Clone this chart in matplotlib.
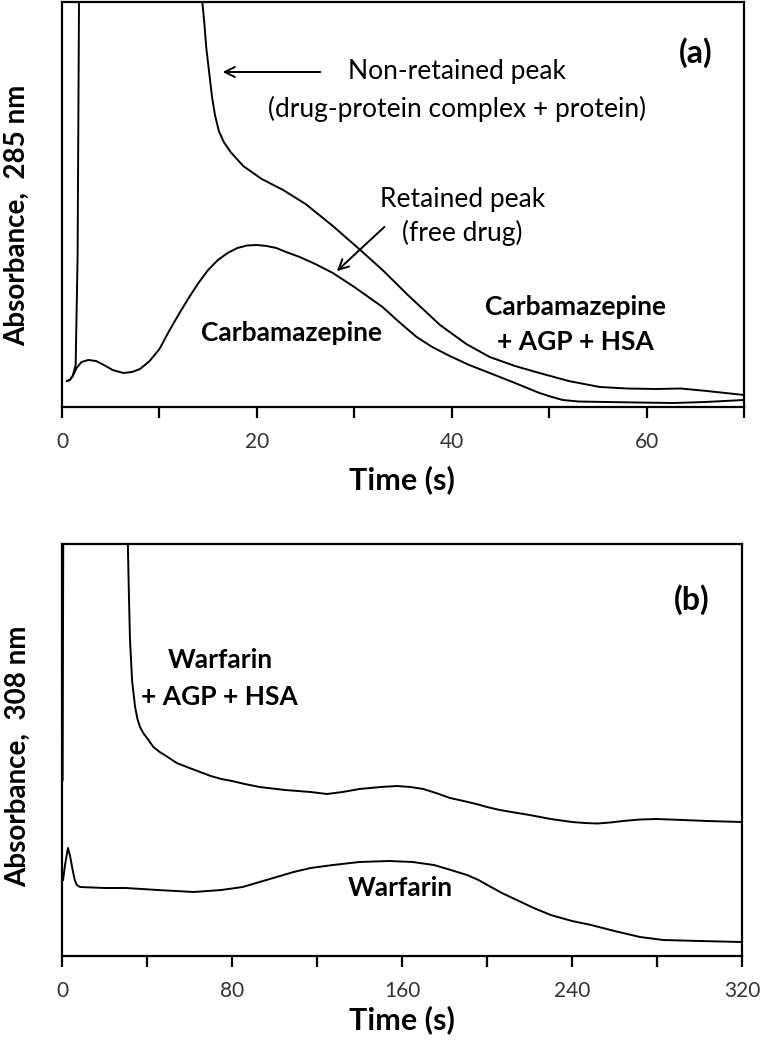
import numpy as np
import matplotlib.pyplot as plt

plt.rcParams['font.family'] = ['Lato', 'DejaVu Sans']

# panel (a): carbamazepine, 285 nm (absorbance in arbitrary units)
t_cbz = [0.5, 0.8, 1.1, 1.5, 2.0, 2.7, 3.5, 4.3, 5.2, 6.3, 7.2, 8.0, 9.0, 10.0, 11.0,
         12.0, 13.0, 14.0, 15.0, 16.0, 17.0, 18.0, 19.0, 20.0, 21.0, 22.0, 23.0, 24.4,
         26.0, 27.8, 30.0, 32.9, 34.6, 36.4, 38.0, 39.8, 41.8, 43.9, 46.5, 49.0, 50.3,
         51.4, 53.0, 55.9, 59.0, 62.7, 66.0, 70.0]
a_cbz = [26, 27, 31, 39, 45, 47, 46, 42, 37, 34, 35, 38, 46, 58, 76,
         93, 109, 124, 137, 147, 154, 159, 161.5, 162, 161, 159, 155, 150,
         143, 134, 120, 100, 85, 70, 60, 51, 42, 34, 24, 14, 10,
         7, 5.5, 5, 4.5, 4, 5, 7]

t_cbz_prot = [0.5, 0.8, 1.1, 1.4, 1.6, 1.8, 13.8, 14.4, 14.6, 14.8, 15.1, 15.4, 15.7,
              16.1, 16.6, 17.3, 18.6, 20.5, 22.7, 25.0, 27.8, 30.5, 32.9, 35.5, 38.8,
              41.5, 43.9, 46.5, 49.0, 52.0, 55.2, 58.0, 61.0, 63.5, 66.2, 70.0]
a_cbz_prot = [26, 27, 31, 42, 150, 500, 500, 405, 385, 360, 335, 310, 292,
              276, 265, 255, 241, 228, 217, 203, 181, 158, 137, 112, 82,
              63, 50, 41, 34, 26, 20, 18.5, 18, 18.5, 16, 12]

# panel (b): warfarin, 308 nm
t_war = [0.5, 1.5, 2.8, 3.8, 5.0, 6.0, 7.0, 8.5, 20, 30, 45, 62, 75, 85, 93, 101,
         109, 117, 127.5, 140, 154, 165, 175, 183, 190.6, 196, 201, 207, 214, 222,
         230, 240, 249, 260, 272, 283, 300, 320]
a_war = [76, 92, 108, 100, 86, 76, 71, 69, 68, 68, 66, 64, 66, 69, 74, 79,
         84, 88, 91, 94, 95, 94, 91, 86, 81, 76, 70, 63, 56, 48,
         41, 35, 31, 25, 19, 16, 15, 14]

t_war_prot = [0.3, 0.8, 30.5, 31.0, 31.5, 32.0, 33.0, 34.4, 35.5, 36.7, 38.5, 40, 43,
              46, 49, 54, 60, 65, 70, 75, 80, 86, 93, 105, 117, 124.7, 132, 140, 150,
              157.6, 164, 170, 176, 182.6, 189, 195, 200, 206, 213, 220, 230, 240,
              246, 252, 258, 264, 272, 280, 292, 303.5, 320]
a_war_prot = [176, 600, 600, 411, 360, 316, 275, 249, 237, 229, 222, 218, 209,
              204, 200, 193, 188, 184, 180, 177, 175, 172, 169, 166, 164, 162, 164, 167, 169,
              170, 169, 167, 163, 158, 155, 152, 149, 146, 143.5, 141, 137, 134,
              133, 132.5, 133.5, 135, 136.5, 137, 136, 135, 134]

fig = plt.figure(figsize=(7.63, 10.5), dpi=100)
W, H = 763, 1050

ax1 = fig.add_axes([62/W, 1-407/H, 682/W, 405/H])
ax2 = fig.add_axes([62/W, 1-956/H, 680/W, 412/H])

lw = 1.4
ax1.plot(t_cbz, a_cbz, color='black', lw=lw)
ax1.plot(t_cbz_prot, a_cbz_prot, color='black', lw=lw)
ax1.set_xlim(0, 70)
ax1.set_ylim(0, 405)
ax1.set_xticks([0, 10, 20, 30, 40, 50, 60, 70])
ax1.set_xticklabels(['0', '', '20', '', '40', '', '60', ''])

ax2.plot(t_war, a_war, color='black', lw=lw)
ax2.plot(t_war_prot, a_war_prot, color='black', lw=lw)
ax2.set_xlim(0, 320)
ax2.set_ylim(0, 412)
ax2.set_xticks([0, 40, 80, 120, 160, 200, 240, 280, 320])
ax2.set_xticklabels(['0', '', '80', '', '160', '', '240', '', '320'])

for ax in (ax1, ax2):
    ax.set_yticks([])
    for sp in ax.spines.values():
        sp.set_linewidth(1.6)
    ax.tick_params(axis='x', direction='out', length=8, width=1.6,
                   labelsize=15, pad=10, labelcolor='#333333')

# panel (a) annotations
ax1.annotate('', xy=(16.2, 335), xytext=(26.8, 335),
             arrowprops=dict(arrowstyle='->', lw=1.4, color='black', mutation_scale=18))
ax1.text(40.5, 335, 'Non-retained peak', ha='center', va='center', fontsize=19)
ax1.text(40.5, 298, '(drug-protein complex + protein)', ha='center', va='center', fontsize=19)
ax1.annotate('', xy=(28.0, 134), xytext=(33.3, 182),
             arrowprops=dict(arrowstyle='->', lw=1.4, color='black', mutation_scale=18))
ax1.text(41.1, 207, 'Retained peak', ha='center', va='center', fontsize=19)
ax1.text(41.1, 174, '(free drug)', ha='center', va='center', fontsize=19)
ax1.text(23.6, 74, 'Carbamazepine', ha='center', va='center', fontsize=19, fontweight='bold')
ax1.text(52.7, 100, 'Carbamazepine', ha='center', va='center', fontsize=19, fontweight='bold')
ax1.text(52.7, 65, '+ AGP + HSA', ha='center', va='center', fontsize=19, fontweight='bold')
ax1.text(65.0, 354, '(a)', ha='center', va='center', fontsize=23, fontweight='bold')

# panel (b) annotations
ax2.text(74.3, 296, 'Warfarin', ha='center', va='center', fontsize=19, fontweight='bold')
ax2.text(73.9, 259, '+ AGP + HSA', ha='center', va='center', fontsize=19, fontweight='bold')
ax2.text(159, 68, 'Warfarin', ha='center', va='center', fontsize=19, fontweight='bold')
ax2.text(296.5, 356, '(b)', ha='center', va='center', fontsize=23, fontweight='bold')

fig.text(402/W, 1-480/H, 'Time (s)', ha='center', va='center', fontsize=22, fontweight='bold')
fig.text(402/W, 1-1020/H, 'Time (s)', ha='center', va='center', fontsize=22, fontweight='bold')
fig.text(17/W, 1-215/H, 'Absorbance,  285 nm', ha='center', va='center', rotation=90,
         fontsize=20, fontweight='bold')
fig.text(18/W, 1-756/H, 'Absorbance,  308 nm', ha='center', va='center', rotation=90,
         fontsize=20, fontweight='bold')

fig.savefig('out.png', dpi=100)
